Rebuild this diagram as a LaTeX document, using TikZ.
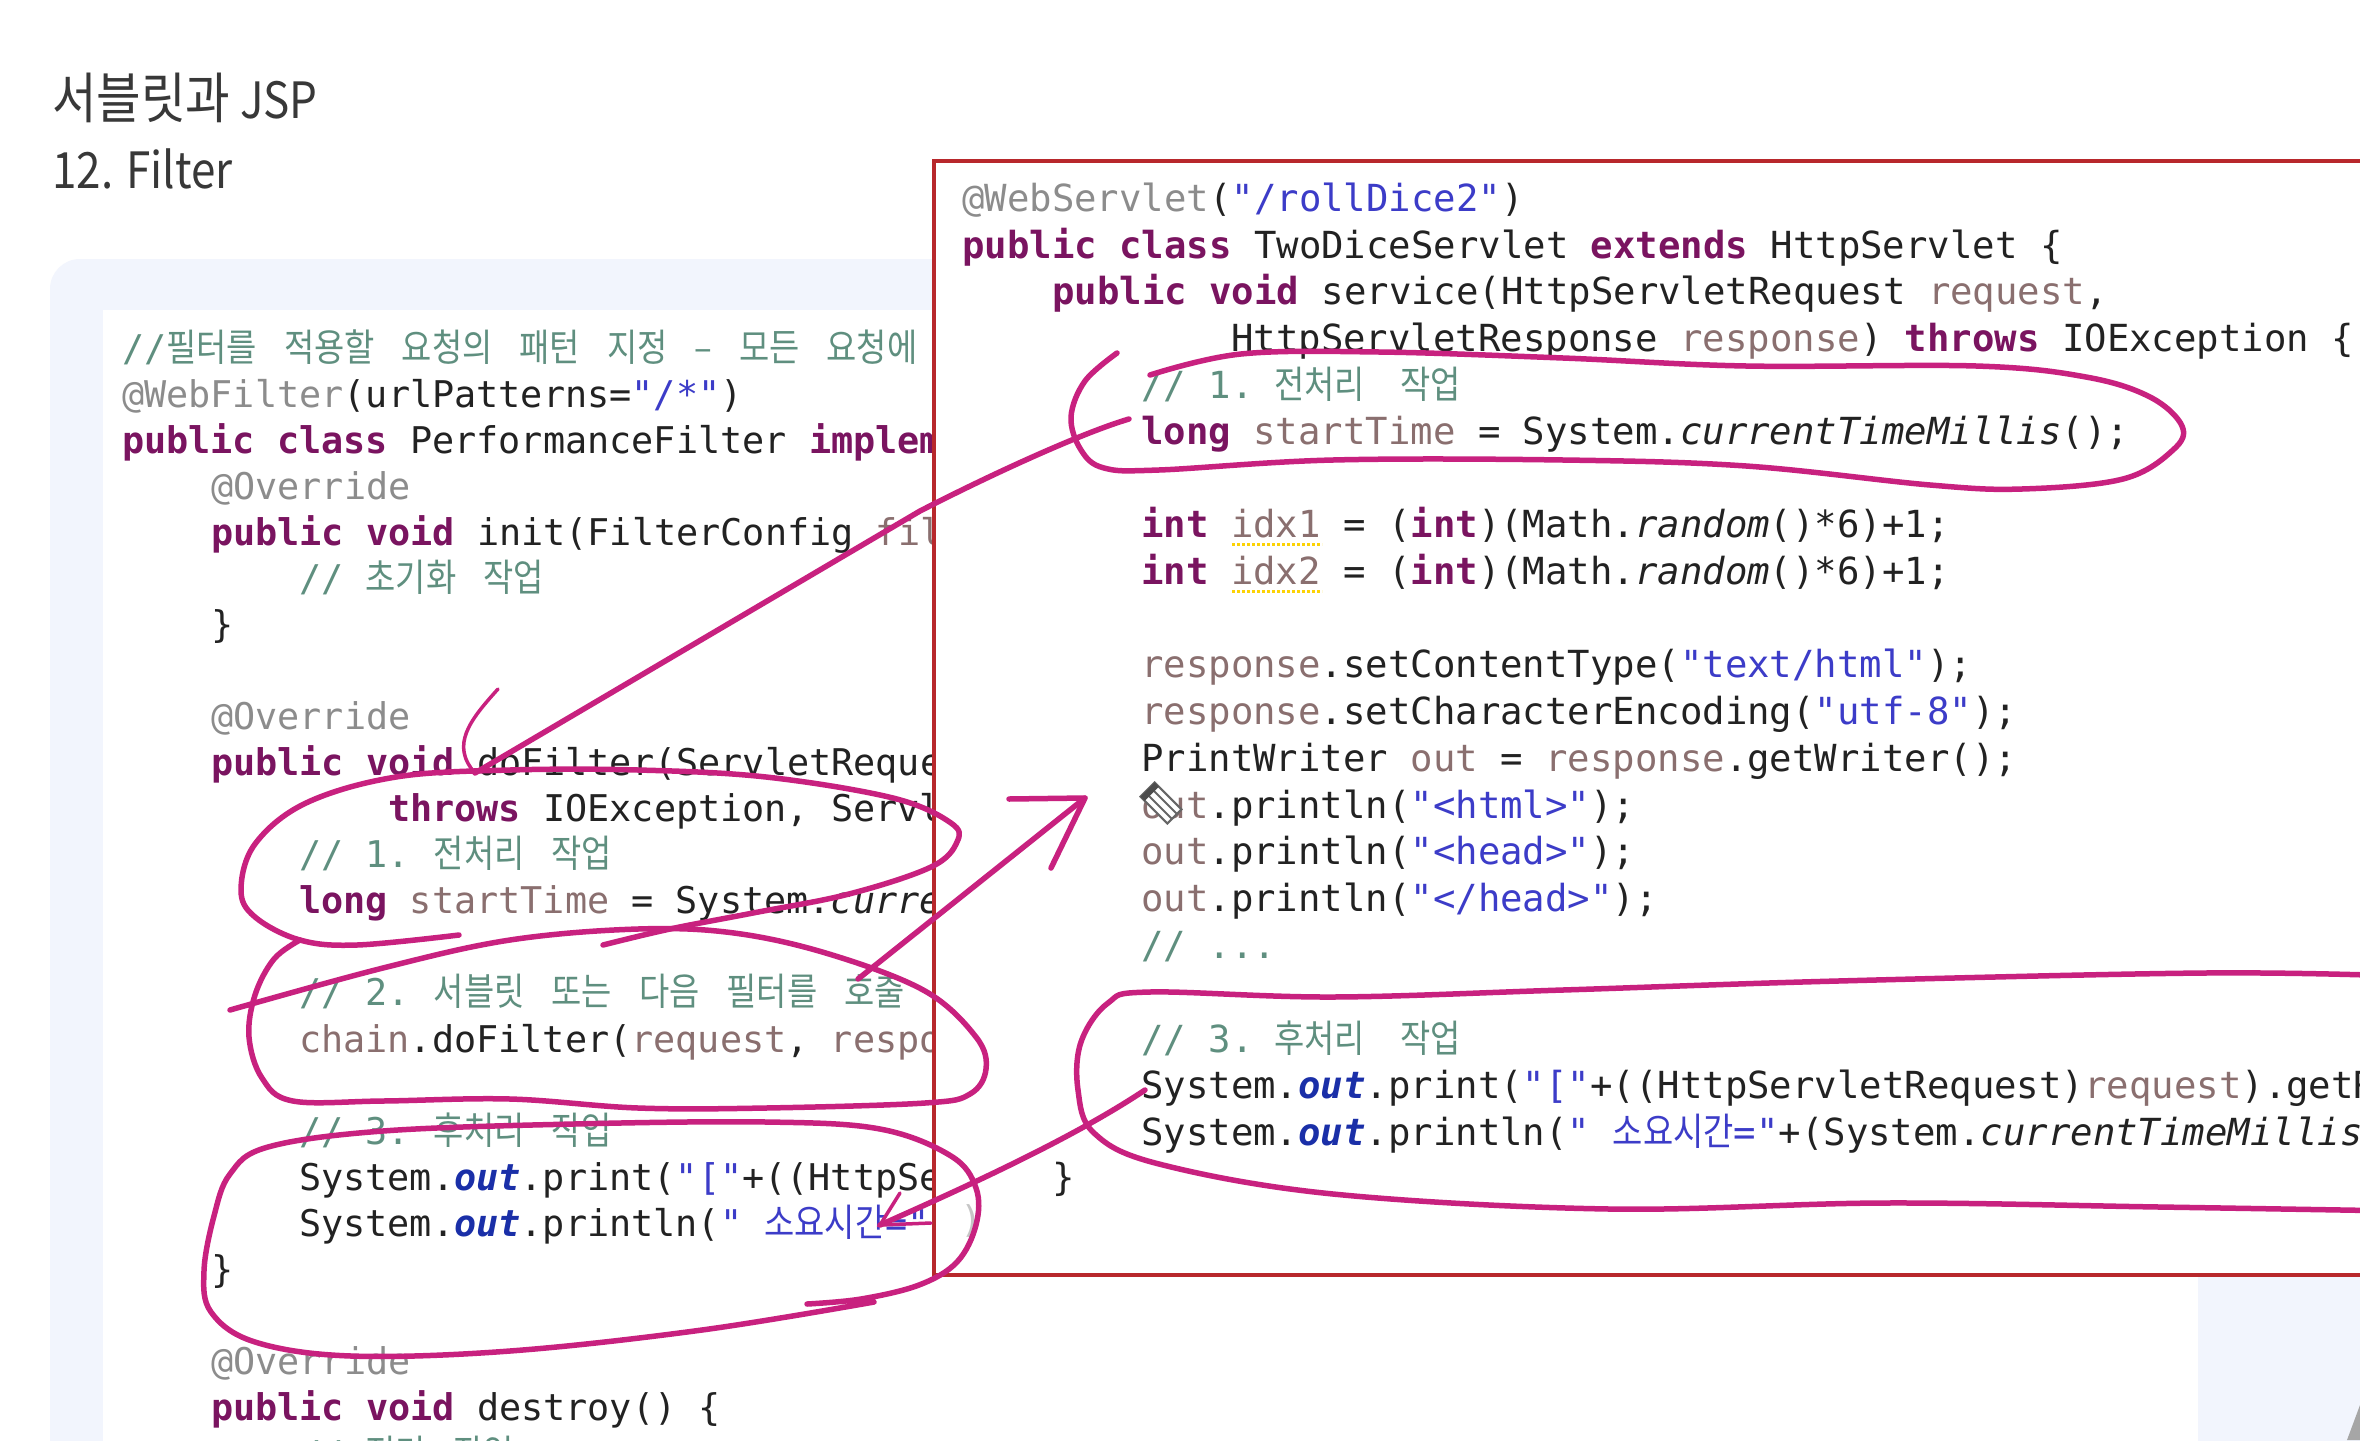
\documentclass[tikz,border=0pt]{standalone}
\usepackage{fontspec}
\newfontfamily\codefont{DejaVu Sans Mono}
\newfontfamily\korfont[FakeStretch=0.865]{Noto Sans CJK KR}
\newfontfamily\titlefont[FakeStretch=0.88]{Noto Sans CJK KR}
\definecolor{panelbg}{HTML}{F2F5FD}
\definecolor{frame}{HTML}{B8282C}
\definecolor{pen}{HTML}{C8217F}
\definecolor{kwc}{HTML}{7A1460}
\definecolor{annc}{HTML}{8C8C8C}
\definecolor{cmtc}{HTML}{5F8F7F}
\definecolor{strc}{HTML}{3C3CC8}
\definecolor{varc}{HTML}{8A6F6F}
\definecolor{fldc}{HTML}{1A2FA8}
\definecolor{txtc}{HTML}{222222}
\newcommand{\kw}[1]{{\bfseries\color{kwc}#1}}
\newcommand{\ann}[1]{{\color{annc}#1}}
\newcommand{\cmt}[1]{{\color{cmtc}#1}}
\newcommand{\strg}[1]{{\color{strc}#1}}
\newcommand{\vv}[1]{{\color{varc}#1}}
\newcommand{\fld}{{\bfseries\itshape\color{fldc}out}}
\newcommand{\kor}[1]{{\korfont\fontsize{38}{46}\selectfont #1}}
\newcommand{\ks}{\hspace{27pt}}
\tikzset{
  code/.style={anchor=base west, inner sep=0pt, text=txtc, font=\codefont\fontsize{37.3}{46}\selectfont},
  codel/.style={anchor=base west, inner sep=0pt, text=txtc, font=\codefont\fontsize{36.8}{46}\selectfont},
  title/.style={anchor=base west, inner sep=0pt, text=txtc!90, font=\titlefont\fontsize{50}{56}\selectfont},
  ink/.style={draw=pen, line width=5.5pt, line cap=round, line join=round},
  barb/.style={draw=pen, line width=3.5pt, line cap=round}
}
\begin{document}
\begin{tikzpicture}[x=1pt,y=-1pt]
\useasboundingbox (0,0) rectangle (2360,1440);
% background panel
\fill[white] (0,0) rectangle (2360,1440);
\fill[panelbg, rounded corners=30pt] (50,259) rectangle (2420,1500);
\fill[white] (103,310) rectangle (2198,1500);
\fill[gray!70] (2347,1440) -- (2360,1405) -- (2360,1440) -- cycle;
% title
\node[title] (head) at (52,118) {{\fontsize{55}{56}\selectfont 서블릿과} JSP};
\node[title] (sub) at (52,188) {12. Filter};
% left code
\node[codel] (la) at (122,361) {\cmt{//\kor{필터를\ks 적용할\ks 요청의\ks 패턴\ks 지정\ks –\ks 모든\ks 요청에}}};
\node[codel] (lb) at (122,407) {\ann{@WebFilter}(urlPatterns=\strg{"/*"})};
\node[codel] (lc) at (122,453) {\kw{public} \kw{class} PerformanceFilter \kw{implem}};
\node[codel] (ld) at (211,499) {\ann{@Override}};
\node[codel] (le) at (211,545) {\kw{public} \kw{void} init(FilterConfig \vv{fil}};
\node[codel] (lf) at (299,591) {\cmt{// \kor{초기화\ks 작업}}};
\node[codel] (lg) at (211,637) {\}};
\node[codel] (li) at (211,729) {\ann{@Override}};
\node[codel] (lj) at (211,775) {\kw{public} \kw{void} doFilter(ServletReque};
\node[codel] (lk) at (388,821) {\kw{throws} IOException, Servl};
\node[codel] (ll) at (299,867) {\cmt{// 1.\hspace{24pt}\kor{전처리\ks 작업}}};
\node[codel] (lm) at (299,913) {\kw{long} \vv{startTime} = System.\textit{curre}};
\node[codel] (ln) at (299,1005) {\cmt{// 2.\hspace{24pt}\kor{서블릿\ks 또는\ks 다음\ks 필터를\ks 호출}}};
\node[codel] (lo) at (299,1052) {\vv{chain}.doFilter(\vv{request}, \vv{respo}};
\node[codel] (lp) at (299,1144) {\cmt{// 3.\hspace{24pt}\kor{후처리\ks 작업}}};
\node[codel] (lq) at (299,1190) {System.\fld.print(\strg{"["}+((HttpSe};
\node[codel] (lr) at (299,1236) {System.\fld.println(\strg{" \kor{소요시간}="}};
\node[codel] (ls) at (211,1282) {\}};
\node[codel] (lt) at (211,1374) {\ann{@Override}};
\node[codel] (lu) at (211,1420) {\kw{public} \kw{void} destroy() \{};
\node[codel] (lv) at (299,1467) {\cmt{// \kor{정리\ks 작업}}};
% red frame
\filldraw[fill=white, draw=frame, line width=4pt] (934,161) rectangle (2420,1275);
\node[codel, text=gray!45] (lw) at (960,1232) {)};
% right code
\node[code] (ra) at (962,211) {\ann{@WebServlet}(\strg{"/rollDice2"})};
\node[code] (rb) at (962,258) {\kw{public} \kw{class} TwoDiceServlet \kw{extends} HttpServlet \{};
\node[code] (rc) at (1052,304) {\kw{public} \kw{void} service(HttpServletRequest \vv{request},};
\node[code] (rd) at (1231,351) {HttpServletResponse \vv{response}) \kw{throws} IOException \{};
\node[code] (re) at (1141,398) {\cmt{// 1.\hspace{21pt}\kor{전처리\hspace{35pt}작업}}};
\node[code] (rf) at (1141,444) {\kw{long} \vv{startTime} = System.\textit{currentTimeMillis}();};
\node[code] (rh) at (1141,537) {\kw{int} \vv{idx1} = (\kw{int})(Math.\textit{random}()*6)+1;};
\node[code] (ri) at (1141,584) {\kw{int} \vv{idx2} = (\kw{int})(Math.\textit{random}()*6)+1;};
\node[code] (rk) at (1141,677) {\vv{response}.setContentType(\strg{"text/html"});};
\node[code] (rl) at (1141,724) {\vv{response}.setCharacterEncoding(\strg{"utf-8"});};
\node[code] (rm) at (1141,771) {PrintWriter \vv{out} = \vv{response}.getWriter();};
\node[code] (rn) at (1141,818) {\vv{out}.println(\strg{"<html>"});};
\node[code] (ro) at (1141,864) {\vv{out}.println(\strg{"<head>"});};
\node[code] (rp) at (1141,911) {\vv{out}.println(\strg{"</head>"});};
\node[code] (rq) at (1141,958) {\cmt{// ...}};
\node[code] (rs) at (1141,1052) {\cmt{// 3.\hspace{21pt}\kor{후처리\hspace{35pt}작업}}};
\node[code] (rt) at (1141,1098) {System.\fld.print(\strg{"["}+((HttpServletRequest)\vv{request}).getR};
\node[code] (ru) at (1141,1145) {System.\fld.println(\strg{" \kor{소요시간}="}+(System.\textit{currentTimeMillis}};
\node[code] (rv) at (1052,1190) {\}};
% squiggles under idx
\draw[draw=yellow!70!orange, line width=3pt, dotted] (1232,544) -- (1322,544);
\draw[draw=yellow!70!orange, line width=3pt, dotted] (1232,591) -- (1322,591);
% pencil cursor
\begin{scope}[shift={(1161,803)}, rotate=-45]
\filldraw[fill=white, draw=black!60, line width=2pt] (-19,-10) rectangle (19,10);
\draw[black!60, line width=2pt] (-19,-3.5) -- (19,-3.5) (-19,3.5) -- (19,3.5);
\fill[black!70] (-19,-10) rectangle (-13,10);
\end{scope}
% left circles
\draw[ink] plot[smooth, tension=.6] coordinates {(459,935) (357,945) (300,940) (255,917) (241,890) (255,844) (306,803) (396,777) (510,770) (638,770) (766,777) (893,798) (951,823) (957,842) (931,867) (849,894) (753,913) (670,929) (603,945)};
\draw[ink] plot[smooth, tension=.6] coordinates {(230,1010) (383,968) (510,940) (638,929) (734,933) (829,954) (925,991) (976,1037) (986,1069) (970,1094) (925,1103) (766,1108) (638,1108) (510,1099) (383,1101) (293,1101) (262,1078) (249,1037) (255,995) (274,959) (300,940)};
\draw[ink] plot[smooth, tension=.6] coordinates {(874,1302) (702,1330) (510,1351) (351,1356) (255,1342) (211,1312) (204,1271) (214,1216) (230,1174) (268,1147) (383,1131) (574,1124) (766,1122) (880,1129) (951,1156) (976,1188) (976,1225) (957,1262) (919,1285) (861,1299) (807,1304)};
% right circles
\draw[ink] plot[smooth, tension=.6] coordinates {(1117,353) (1085,381) (1071,417) (1081,450) (1104,468) (1159,470) (1333,460) (1563,460) (1746,466) (1930,485) (2022,489) (2123,479) (2173,450) (2182,426) (2150,397) (2086,377) (1976,366) (1746,366) (1563,358) (1379,352) (1241,354) (1150,375)};
\draw[ink] plot[smooth, tension=.6] coordinates {(2400,976) (2205,973) (1838,981) (1563,990) (1333,997) (1150,992) (1108,1003) (1081,1042) (1078,1090) (1094,1133) (1159,1164) (1333,1194) (1609,1209) (1884,1203) (2159,1207) (2400,1211)};
% arrows
\coordinate (afrom) at (1129,419);
\coordinate (ato) at (475,773);
\coordinate (abarb) at (498,689);
\coordinate (bfrom) at (858,979);
\coordinate (bto) at (1085,798);
\coordinate (bbarba) at (1009,799);
\coordinate (bbarbb) at (1051,868);
\coordinate (cfrom) at (1145,1090);
\coordinate (cto) at (880,1225);
\coordinate (cbarba) at (900,1193);
\coordinate (cbarbb) at (931,1223);
\draw[ink] (afrom) .. controls (1085,432) and (1000,470) .. (920,511) -- (ato);
\draw[barb] (abarb) .. controls (470,720) and (450,745) .. (ato);
\draw[ink] (bfrom) -- (bto);
\draw[ink] (bbarba) -- (bto) -- (bbarbb);
\draw[ink] (cfrom) .. controls (1085,1130) and (1000,1172) .. (cto);
\draw[barb] (cbarba) -- (cto) -- (cbarbb);
\end{tikzpicture}
\end{document}
